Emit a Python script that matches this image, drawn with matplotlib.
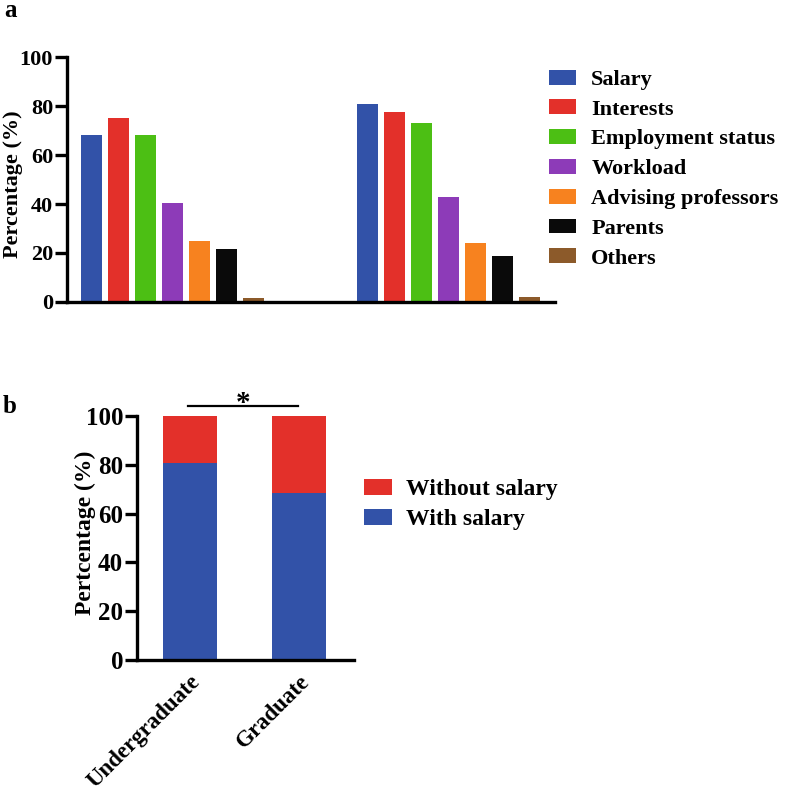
import matplotlib.pyplot as plt
import numpy as np

plt.rcParams['font.family'] = ['Liberation Serif', 'DejaVu Serif']
plt.rcParams['font.weight'] = 'bold'

# panel a
factors = ['Salary', 'Interests', 'Employment status', 'Workload',
           'Advising professors', 'Parents', 'Others']
group1 = [68.2, 75.2, 68.2, 40.3, 25.0, 21.6, 1.8]
group2 = [80.7, 77.4, 73.2, 43.0, 24.1, 18.6, 2.2]
colores = ['#3252a8', '#e3302a', '#4cbf14', '#8d3bb8', '#f7821f', '#0a0a0a', '#8c5a2a']

# panel b
grupos = ['Undergraduate', 'Graduate']
with_salary = [80.6, 68.4]
without_salary = [19.4, 31.6]

fig = plt.figure(figsize=(7.87, 7.92), dpi=100)

def estiloEixo(ax, tam=16):
    for s in ['top', 'right']:
        ax.spines[s].set_visible(False)
    for s in ['left', 'bottom']:
        ax.spines[s].set_linewidth(2.4)
    ax.tick_params(axis='y', width=2.4, length=9, labelsize=tam, pad=1)
    ax.tick_params(axis='x', length=0)
    for t in ax.get_yticklabels():
        t.set_fontweight('bold')

# ---- a ----
ax1 = fig.add_axes([0.0851, 0.6187, 0.620, 0.3093])
x = np.arange(len(factors))
for i in range(len(factors)):
    ax1.bar([x[i], x[i] + 10.22], [group1[i], group2[i]], width=0.78,
            color=colores[i], label=factors[i])
ax1.set_xlim(-0.91, 17.17)
ax1.set_ylim(0, 100)
ax1.set_yticks([0, 20, 40, 60, 80, 100])
ax1.set_xticks([])
ax1.set_ylabel('Percentage (%)', fontsize=16, fontweight='bold')
ax1.yaxis.set_label_coords(-0.09, 0.48)
estiloEixo(ax1)
fig.legend(*ax1.get_legend_handles_labels(), loc='upper left',
           bbox_to_anchor=(0.6976, 0.912), frameon=False,
           handlelength=1.2, handleheight=0.65, handletextpad=0.7,
           labelspacing=0.43, borderpad=0, borderaxespad=0,
           prop={'weight': 'bold', 'size': 16})
fig.text(0.006, 0.978, 'a', fontsize=18, fontweight='bold')

# ---- b ----
ax2 = fig.add_axes([0.174, 0.1667, 0.2757, 0.308])
xb = np.arange(len(grupos))
ax2.bar(xb, with_salary, width=0.49, color='#3252a8', label='With salary')
ax2.bar(xb, without_salary, width=0.49, bottom=with_salary, color='#e3302a',
        label='Without salary')
ax2.set_xlim(-0.484, 1.5)
ax2.set_ylim(0, 100)
ax2.set_yticks([0, 20, 40, 60, 80, 100])
ax2.set_xticks(xb)
ax2.set_xticklabels(grupos, rotation=45, ha='right', rotation_mode='anchor',
                    fontsize=16.5, fontweight='bold')
ax2.tick_params(axis='x', pad=8)
ax2.set_ylabel('Pertcentage (%)', fontsize=17, fontweight='bold')
estiloEixo(ax2, tam=18)
ax2.yaxis.set_label_coords(-0.19, 0.52)
ax2.plot([-0.02, 0.99], [104.2, 104.2], color='black', lw=1.6, clip_on=False)
ax2.text(0.49, 102.2, '*', ha='center', va='baseline', fontsize=21,
         fontweight='bold')
h, l = ax2.get_legend_handles_labels()
fig.legend(h[::-1], l[::-1], loc='upper left', bbox_to_anchor=(0.4625, 0.395),
           frameon=False, handlelength=1.2, handleheight=0.65,
           handletextpad=0.6, labelspacing=0.36, borderpad=0, borderaxespad=0,
           prop={'weight': 'bold', 'size': 17})
fig.text(0.004, 0.479, 'b', fontsize=18, fontweight='bold')

plt.savefig('out.png', dpi=100)
